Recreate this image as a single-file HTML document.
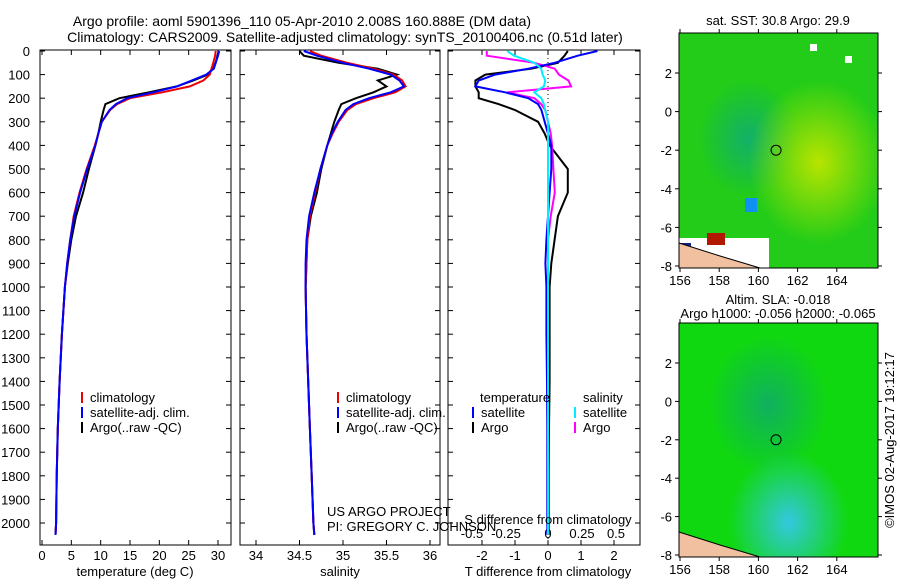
<!DOCTYPE html>
<html><head><meta charset="utf-8"><style>
body{margin:0;background:#fff}
svg{font-family:"Liberation Sans",sans-serif;font-size:13px}
</style></head><body>
<svg id="c" width="900" height="580" viewBox="0 0 900 580">
<defs>
<radialGradient id="g1" cx="0.35" cy="0.45" r="0.25"><stop offset="0" stop-color="#12b06a"/><stop offset="1" stop-color="#12b06a" stop-opacity="0"/></radialGradient>
<radialGradient id="g2" cx="0.7" cy="0.55" r="0.35"><stop offset="0" stop-color="#b8e400"/><stop offset="1" stop-color="#b8e400" stop-opacity="0"/></radialGradient>
<radialGradient id="g3" cx="0.55" cy="0.85" r="0.3"><stop offset="0" stop-color="#33c8e0"/><stop offset="1" stop-color="#33c8e0" stop-opacity="0"/></radialGradient>
<radialGradient id="g4" cx="0.45" cy="0.35" r="0.3"><stop offset="0" stop-color="#10b060"/><stop offset="1" stop-color="#10b060" stop-opacity="0"/></radialGradient>
</defs>
</svg>
<script>
// ---- data ----
const depths    = [0,20,50,75,100,125,150,175,200,225,250,300,350,400,500,600,700,800,900,1000,1200,1400,1600,1800,2000,2050];
const tempClim  = [29.6,29.5,29.2,28.9,28.6,27.5,25.2,20.5,15.0,12.8,11.6,10.2,9.6,9.0,7.6,6.4,5.4,4.8,4.3,3.9,3.4,3.0,2.7,2.5,2.4,2.3];
const tempSat   = [30.2,30.0,29.6,29.3,28.0,25.5,23.0,19.0,14.5,12.6,11.5,10.2,9.6,9.1,7.7,6.5,5.5,4.8,4.3,3.9,3.4,3.0,2.7,2.5,2.4,2.3];
const tempArgo  = [30.1,29.9,29.6,29.0,28.3,25.8,23.0,18.2,13.2,10.8,10.5,10.0,9.6,9.1,8.0,7.0,5.8,5.0,4.4,3.9,3.4,3.0,2.7,2.5,2.4,2.3];
const salClim   = [34.62,34.75,35.05,35.35,35.58,35.68,35.72,35.6,35.35,35.15,35.05,34.95,34.88,34.82,34.74,34.68,34.62,34.59,34.58,34.57,34.58,34.6,34.62,34.64,34.66,34.67];
const salSat    = [34.55,34.7,35.0,35.3,35.55,35.65,35.7,35.55,35.3,35.12,35.03,34.94,34.87,34.82,34.74,34.67,34.61,34.58,34.57,34.57,34.58,34.6,34.62,34.64,34.66,34.67];
const salArgo   = [34.5,34.55,34.95,35.4,35.62,35.4,35.5,35.35,35.15,34.98,34.95,34.9,34.86,34.82,34.75,34.7,34.63,34.59,34.58,34.57,34.58,34.6,34.62,34.64,34.66,34.67];
const dTSat     = [1.5,0.9,0.2,-0.6,-1.6,-2.1,-2.2,-1.3,-0.6,-0.3,-0.2,-0.1,0.0,0.1,0.1,0.05,0.0,-0.05,-0.08,-0.05,-0.05,-0.03,-0.02,-0.02,-0.02,-0.02];
const dTArgo    = [0.6,0.5,0.3,-0.5,-1.9,-2.2,-2.2,-2.1,-2.1,-1.5,-1.0,-0.3,-0.1,0.05,0.6,0.6,0.3,0.2,0.1,0.05,0.05,0.05,0.03,0.02,0.02,0.02];
const dSArgo    = [-0.45,-0.45,-0.1,0.05,0.08,0.15,0.17,-0.3,-0.1,-0.05,-0.02,0.0,0.02,0.03,0.04,0.05,0.02,0.0,0.0,0.0,0.0,0.0,0.0,0.0,0.0,0.0];
const dSSat     = [-0.3,-0.25,-0.1,-0.05,-0.04,-0.02,-0.03,-0.1,-0.05,-0.03,-0.02,0.0,0.0,0.0,0.0,0.0,0.0,0.0,0.0,0.0,0.0,0.0,0.0,0.0,0.0,0.0];
const depthTicks = [0,100,200,300,400,500,600,700,800,900,1000,1100,1200,1300,1400,1500,1600,1700,1800,1900,2000];
const tTicks = [0,5,10,15,20,25,30];
const sTicks = [34,34.5,35,35.5,36];
const dTTicks = [-2,-1,0,1,2];
const dSTicks = [-0.5,-0.25,0,0.25,0.5];
const dSLabels = ['-0.5','-0.25','0','0.25','0.5'];
const latTicks = [2,0,-2,-4,-6,-8];
const lonTicks = [156,158,160,162,164];

const svg=document.getElementById('c');
const NS='http://www.w3.org/2000/svg';
function mk(tag,attrs,parent){const e=document.createElementNS(NS,tag);for(const k in attrs)e.setAttribute(k,attrs[k]);(parent||svg).appendChild(e);return e;}
function txt(x,y,s,anchor,parent){const t=mk('text',{x:x,y:y,'text-anchor':anchor||'start'},parent);t.textContent=s;return t;}

const Y0=51,Y1=523,TOP=50,BOT=545;
const yD=d=>Y0+(d/2000)*(Y1-Y0);
const xT=t=>42+t*(218-42)/30;
const xS=s=>256+(s-34)*87;
const xDT=v=>548+v*33;
const xDS=v=>548+v*136;

function frame(x0,x1,name){
  const r=mk('rect',{x:x0,y:TOP,width:x1-x0,height:BOT-TOP,fill:'none',stroke:'#000'});
  
  
}
function line(xs,fx,ys,color,name,w){
  const p=mk('polyline',{points:xs.map((v,i)=>fx(v).toFixed(1)+','+yD(ys[i]).toFixed(1)).join(' '),fill:'none',stroke:color,'stroke-width':w||2});
  
  
}
function xticks(vals,fx,name){
  const g=mk('g',{});
  
  
  vals.forEach(v=>{const x=fx(v);mk('line',{x1:x,x2:x,y1:BOT,y2:BOT-5,stroke:'#000'},g);mk('line',{x1:x,x2:x,y1:TOP,y2:TOP+5,stroke:'#000'},g);txt(x,560,String(v),'middle',g);});
}
function yticks(x0,x1,withLabels){
  const g=mk('g',{});
  
  
  depthTicks.forEach(d=>{const y=yD(d);mk('line',{x1:x0,x2:x0+5,y1:y,y2:y,stroke:'#000'},g);mk('line',{x1:x1,x2:x1-5,y1:y,y2:y,stroke:'#000'},g);if(withLabels)txt(30,y+5,String(d),'end',g);});
}

// titles
let t=txt(302,26,'Argo profile: aoml 5901396_110 05-Apr-2010 2.008S 160.888E (DM data)','middle');
t.setAttribute('font-size','14');

t=txt(345,42,'Climatology: CARS2009. Satellite-adjusted climatology: synTS_20100406.nc (0.51d later)','middle');
t.setAttribute('font-size','14');


// panel 1 temperature
frame(40,231,'temperature-panel');
yticks(40,231,true);
xticks(tTicks,xT,'temperature-x-axis');
line(tempArgo,xT,depths,'#000','argo-temperature-line');
line(tempClim,xT,depths,'#e00','clim-temperature-line');
line(tempSat,xT,depths,'#00f','sat-temperature-line');
t=txt(135,576,'temperature (deg C)','middle');

// panel 2 salinity
frame(240,440,'salinity-panel');
yticks(240,440,false);
xticks(sTicks,xS,'salinity-x-axis');
line(salArgo,xS,depths,'#000','argo-salinity-line');
line(salClim,xS,depths,'#e00','clim-salinity-line');
line(salSat,xS,depths,'#00f','sat-salinity-line');
t=txt(340,576,'salinity','middle');

// panel 3 differences
frame(448,640,'difference-panel');
yticks(448,640,false);
xticks(dTTicks,xDT,'t-diff-x-axis');
{const g=mk('g',{});
 dSTicks.forEach((v,i)=>txt(xDS(v)+(v<0?-8:0),538,dSLabels[i],'middle',g));}
const zl=mk('line',{x1:548,x2:548,y1:TOP,y2:BOT,stroke:'#000','stroke-dasharray':'1,3'});

line(dTArgo,xDT,depths,'#000','argo-t-diff-line');
line(dSArgo,xDS,depths,'#f0f','argo-s-diff-line');
line(dTSat,xDT,depths,'#00f','sat-t-diff-line');
line(dSSat,xDS,depths,'#0ef','sat-s-diff-line');
t=txt(548,524,'S difference from climatology','middle');
t=txt(548,576,'T difference from climatology','middle');

// legends
function leg(x,y,color,label,name){
  const g=mk('g',{});
  mk('line',{x1:x,x2:x,y1:y-10,y2:y+1,stroke:color,'stroke-width':2},g);txt(x+8,y,label,'start',g);
}
[[82,'temperature'],[338,'salinity']].forEach(([lx,n])=>{
  leg(lx,402,'#e00','climatology',n+'-legend-climatology');
  leg(lx,417,'#00f','satellite-adj. clim.',n+'-legend-satellite');
  leg(lx,432,'#000','Argo(..raw -QC)',n+'-legend-argo');
});
t=txt(480,402,'temperature');
t=txt(583,402,'salinity');
leg(473,417,'#00f','satellite','legend-t-satellite');
leg(473,432,'#000','Argo','legend-t-argo');
leg(575,417,'#0ef','satellite','legend-s-satellite');
leg(575,432,'#f0f','Argo','legend-s-argo');

t=txt(327,516,'US ARGO PROJECT');
t=txt(327,531,'PI: GREGORY C. JOHNSON');

// maps
const MX0=679,MX1=878;
const xLon=l=>680+(l-156)*19.6;
function map(y0,y1,yAt2,title1,title2,name,sst){
  const yLat=v=>yAt2+(2-v)*((y1-2-yAt2)/10);
  const g=mk('g',{});
  mk('rect',{x:MX0,y:y0,width:MX1-MX0,height:y1-y0,fill:sst?'#22cc18':'#10d810'},g);
  if(sst){mk('rect',{x:MX0,y:y0,width:MX1-MX0,height:y1-y0,fill:'url(#g1)'},g);mk('rect',{x:MX0,y:y0,width:MX1-MX0,height:y1-y0,fill:'url(#g2)'},g);
    mk('rect',{x:MX0,y:y1-30,width:90,height:30,fill:'#fff'},g);mk('rect',{x:MX0,y:y1-25,width:12,height:20,fill:'#102090'},g);mk('rect',{x:707,y:y1-35,width:18,height:12,fill:'#b01800'},g);mk('rect',{x:745,y:y1-70,width:12,height:14,fill:'#1090f0'},g);
    mk('rect',{x:810,y:44,width:7,height:7,fill:'#fff'},g);mk('rect',{x:845,y:56,width:7,height:7,fill:'#fff'},g);}
  else{mk('rect',{x:MX0,y:y0,width:MX1-MX0,height:y1-y0,fill:'url(#g4)'},g);mk('rect',{x:MX0,y:y0,width:MX1-MX0,height:y1-y0,fill:'url(#g3)'},g);}
  mk('path',{d:`M${MX0} ${y1-25} L720 ${y1-12} L760 ${y1} L${MX0} ${y1} Z`,fill:'#f0c0a0',stroke:'#000'},g);
  mk('rect',{x:MX0,y:y0,width:MX1-MX0,height:y1-y0,fill:'none',stroke:'#000'},g);
  mk('circle',{cx:xLon(160.9),cy:yLat(-2),r:5,fill:'none',stroke:'#000'},g);
  latTicks.forEach(v=>{const y=yLat(v);mk('line',{x1:MX0,x2:MX0-4,y1:y,y2:y,stroke:'#000'},g);mk('line',{x1:MX1,x2:MX1+4,y1:y,y2:y,stroke:'#000'},g);txt(672,y+5,String(v),'end',g);});
  lonTicks.forEach(v=>{const x=xLon(v);mk('line',{x1:x,x2:x,y1:y1,y2:y1+4,stroke:'#000'},g);mk('line',{x1:x,x2:x,y1:y0,y2:y0-4,stroke:'#000'},g);txt(x,y1+17,String(v),'middle',g);});
  if(title1)txt(778,y0-(title2?19:8),title1,'middle',g);
  if(title2)txt(778,y0-5,title2,'middle',g);
}
map(33,268,73,'sat. SST: 30.8 Argo: 29.9',null,'sst-map',true);
map(323,557,363,'Altim. SLA: -0.018','Argo h1000: -0.056 h2000: -0.065','sla-map',false);
t=txt(0,0,'©IMOS 02-Aug-2017 19:12:17','middle');t.setAttribute('transform','translate(894,440) rotate(-90)');

</script>
</body></html>
